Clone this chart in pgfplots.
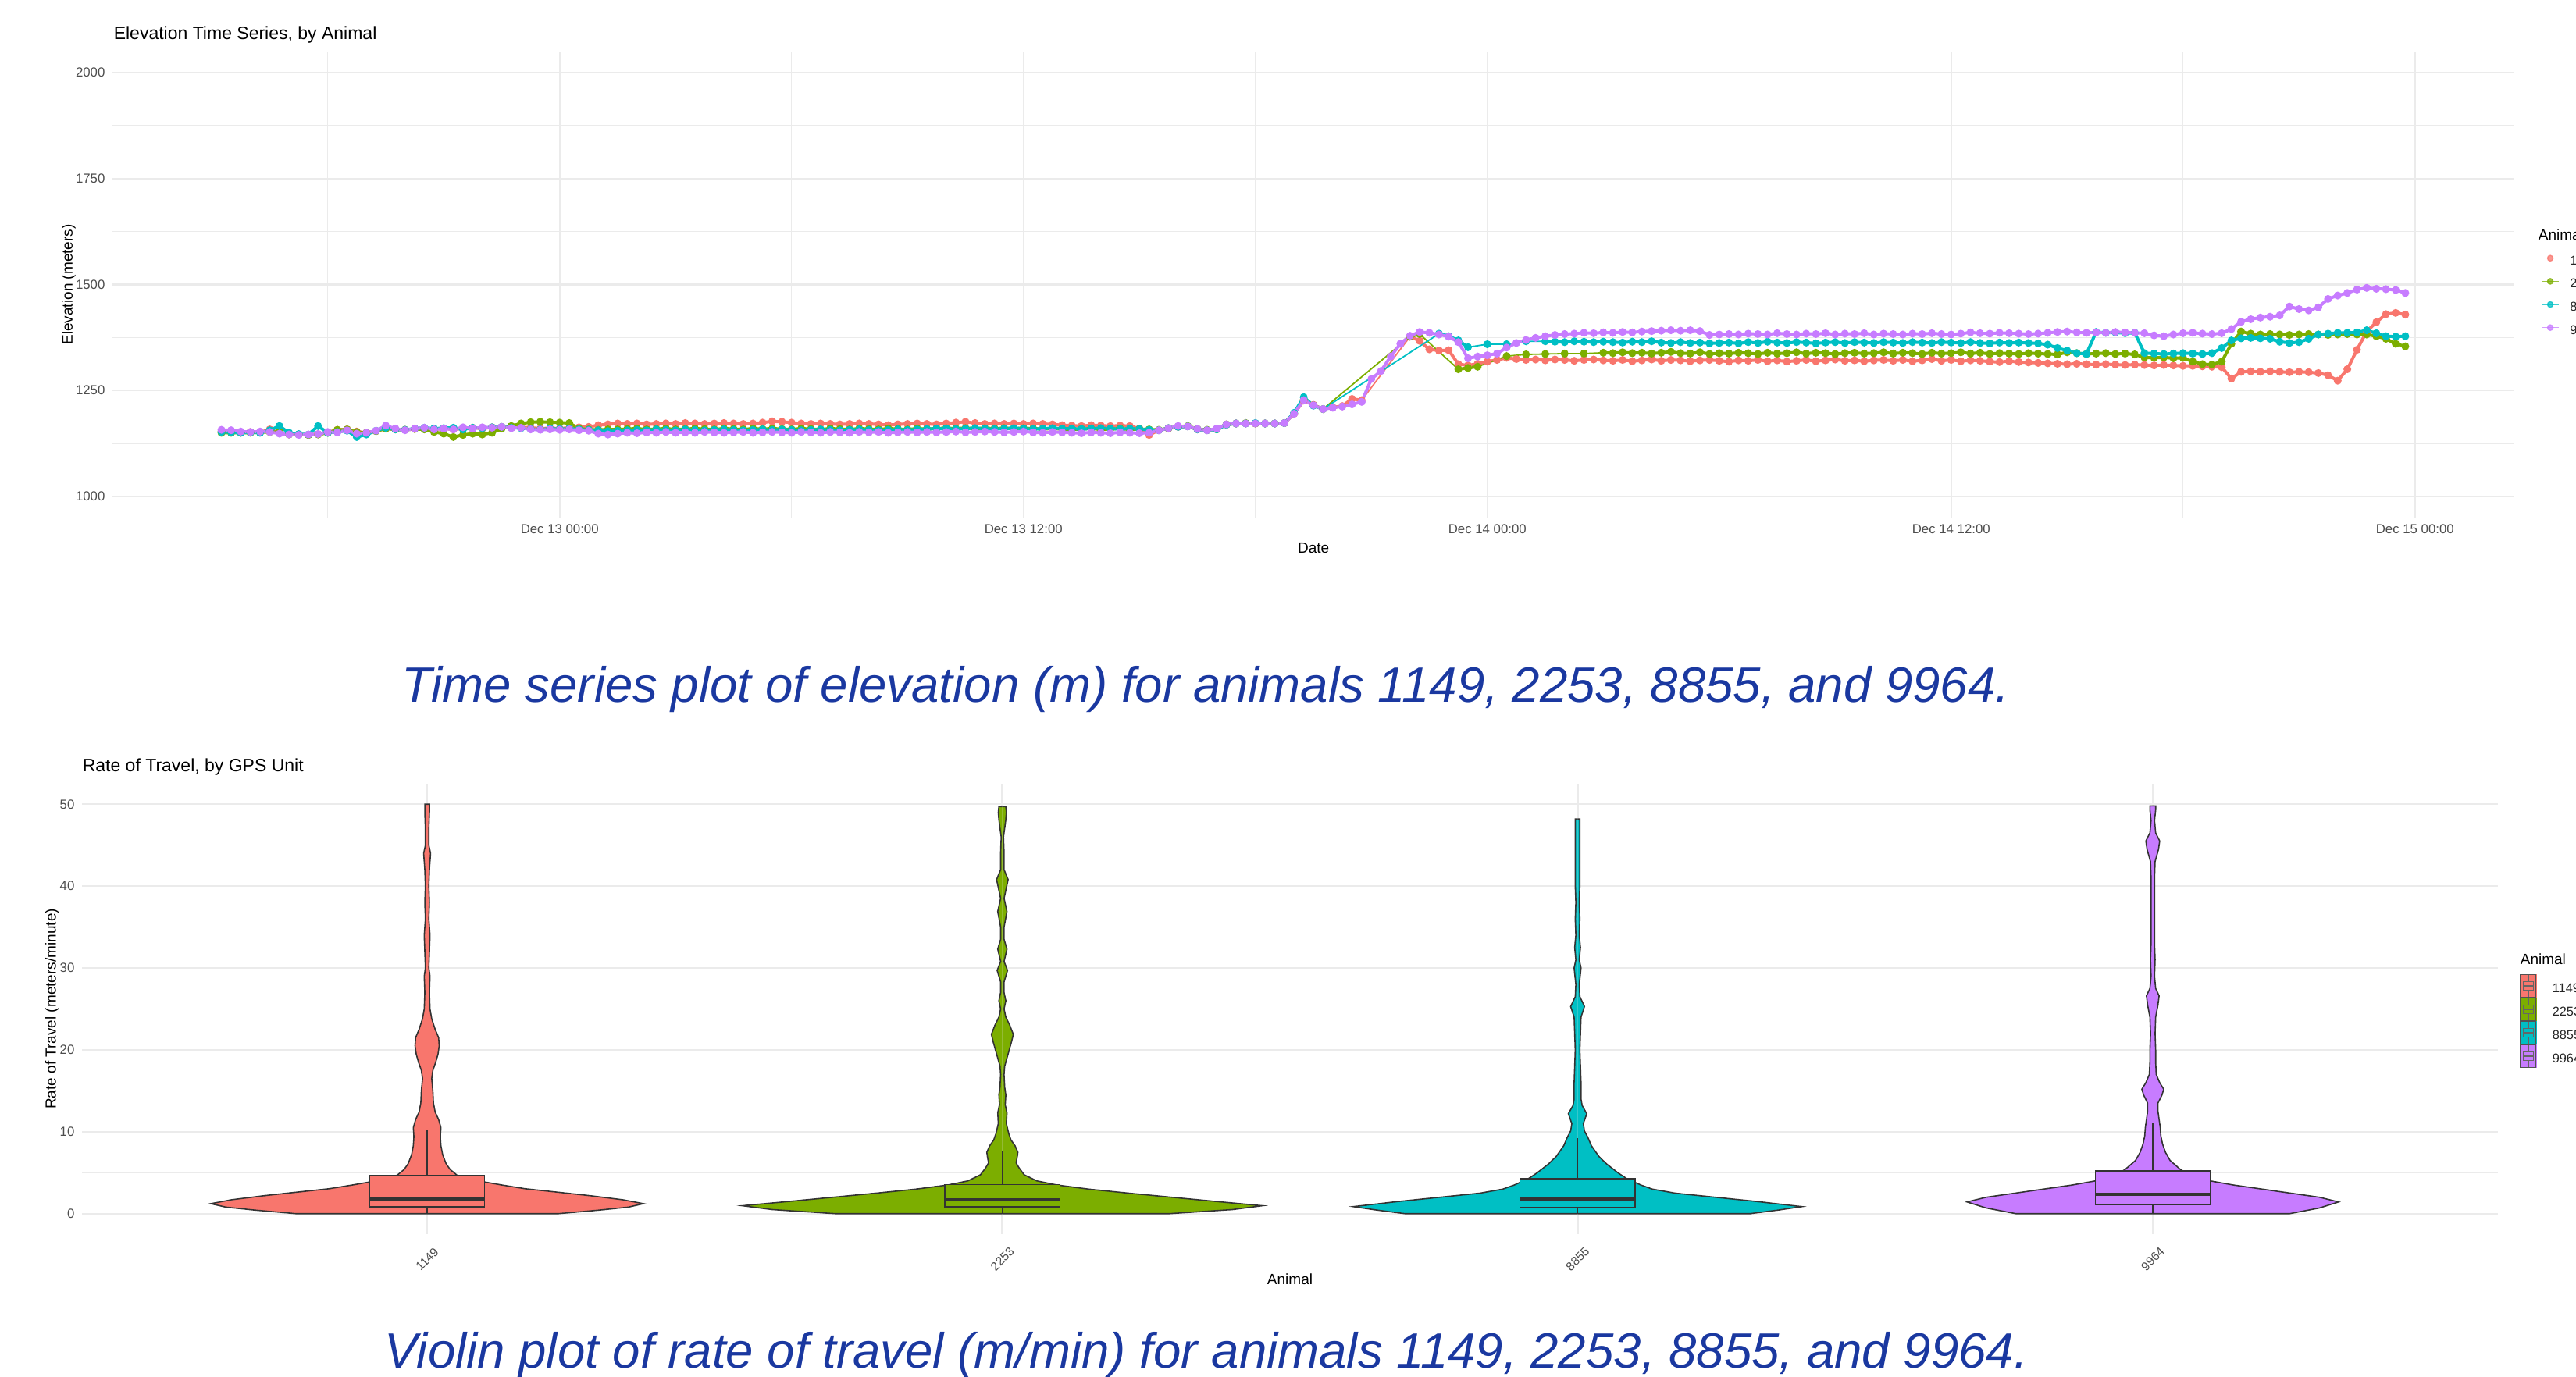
\documentclass[border=0pt]{standalone}
\usepackage{pgfplots}
\pgfplotsset{compat=1.18}
\usepackage{pgfplotstable}
\usepgfplotslibrary{statistics}
\usepackage{fontspec}
\setmainfont{Liberation Sans}
\definecolor{cA}{HTML}{F8766D}
\definecolor{cB}{HTML}{7CAE00}
\definecolor{cC}{HTML}{00BFC4}
\definecolor{cD}{HTML}{C77CFF}
\definecolor{gridc}{HTML}{EBEBEB}
\definecolor{tickc}{HTML}{4D4D4D}
\definecolor{vline}{HTML}{333333}
\definecolor{capblue}{RGB}{26,56,160}
\newcommand{\fs}[1]{\fontsize{#1}{#1}\selectfont}
\newcommand{\vkey}[1]{%
  \fill[#1] (0pt,-2.1pt) rectangle (5pt,5.0pt);
  \draw[vline!85, line width=0.25pt] (0pt,-2.1pt) rectangle (5pt,5.0pt);
  \draw[vline!75, line width=0.2pt] (0.8pt,0.1pt) rectangle (4.2pt,2.8pt);
  \draw[vline!75, line width=0.3pt] (0.8pt,1.45pt) -- (4.2pt,1.45pt);
  \draw[vline!75, line width=0.2pt] (2.5pt,-2.1pt) -- (2.5pt,0.1pt) (2.5pt,2.8pt) -- (2.5pt,5.0pt);}

% time in hours since Dec 13 00:00; r=1149 g=2253 c=8855 p=9964
\pgfplotstableread{
t r g c p
-8.75 1153 1150 1152 1157
-8.5 1152 1150 1151 1156
-8.25 1151 1150 1150 1153
-8.0 1152 1150 1151 1152
-7.75 1151 1151 1150 1153
-7.5 1158 1152 1156 1152
-7.25 1150 1152 1166 1148
-7.0 1148 1146 1150 1146
-6.75 1146 1146 1147 1145
-6.5 1145 1145 1146 1146
-6.25 1147 1146 1166 1147
-6.0 1151 1150 1150 1152
-5.75 1157 1157 1152 1151
-5.5 1158 1158 1155 1156
-5.25 1153 1152 1140 1148
-5.0 1150 1150 1146 1150
-4.75 1154 1154 1155 1155
-4.5 1160 1160 1162 1167
-4.25 1158 1158 1158 1160
-4.0 1157 1157 1157 1156
-3.75 1159 1159 1160 1160
-3.5 1160 1158 1162 1162
-3.25 1158 1152 1160 1158
-3.0 1160 1148 1161 1160
-2.75 1158 1140 1162 1158
-2.5 1160 1145 1158 1163
-2.25 1162 1148 1162 1160
-2.0 1160 1146 1161 1163
-1.75 1163 1150 1163 1162
-1.5 1164 1160 1164 1164
-1.25 1162 1166 1162 1161
-1.0 1163 1172 1161 1162
-0.75 1162 1175 1159 1158
-0.5 1160 1176 1158 1157
-0.25 1161 1175 1160 1158
0.0 1160 1174 1159 1157
0.25 1162 1173 1160 1158
0.5 1163 1160 1158 1156
0.75 1164 1158 1157 1155
1.0 1168 1157 1156 1148
1.25 1170 1158 1154 1146
1.5 1172 1158 1155 1148
1.75 1171 1159 1156 1150
2.0 1172 1160 1157 1149
2.25 1170 1158 1156 1151
2.5 1171 1159 1158 1150
2.75 1172 1160 1157 1152
3.0 1171 1158 1156 1150
3.25 1173 1159 1158 1151
3.5 1172 1160 1157 1150
3.75 1171 1159 1156 1152
4.0 1172 1158 1157 1151
4.25 1173 1160 1158 1150
4.5 1172 1159 1157 1151
4.75 1171 1158 1156 1152
5.0 1172 1160 1157 1150
5.25 1174 1159 1158 1151
5.5 1177 1160 1157 1152
5.75 1176 1159 1158 1151
6.0 1174 1158 1157 1150
6.25 1172 1160 1156 1152
6.5 1171 1159 1157 1151
6.75 1172 1158 1158 1150
7.0 1171 1160 1157 1152
7.25 1170 1159 1156 1151
7.5 1171 1158 1157 1150
7.75 1172 1160 1158 1152
8.0 1171 1159 1157 1151
8.25 1170 1158 1156 1152
8.5 1168 1160 1157 1150
8.75 1170 1159 1158 1151
9.0 1171 1158 1157 1152
9.25 1172 1160 1158 1151
9.5 1171 1159 1159 1152
9.75 1170 1160 1160 1151
10.0 1172 1161 1160 1152
10.25 1174 1160 1159 1153
10.5 1176 1161 1160 1151
10.75 1173 1160 1161 1152
11.0 1171 1161 1160 1153
11.25 1172 1160 1159 1152
11.5 1171 1161 1160 1151
11.75 1172 1160 1161 1152
12.0 1171 1161 1160 1153
12.25 1172 1160 1159 1151
12.5 1171 1159 1160 1150
12.75 1170 1160 1161 1152
13.0 1168 1159 1160 1151
13.25 1167 1158 1160 1150
13.5 1166 1159 1159 1149
13.75 1168 1160 1160 1151
14.0 1167 1158 1161 1150
14.25 1166 1159 1160 1149
14.5 1167 1160 1159 1151
14.75 1166 1158 1160 1150
15.0 1160 1159 1159 1149
15.25 1145 1158 1157 1150
15.5 1156 1157 1156 1156
15.75 1160 1161 1161 1161
16.0 1164 1165 1164 1166
16.25 1165 1166 1165 1165
16.5 1158 1159 1158 1159
16.75 1156 1157 1156 1156
17.0 1159 1158 1158 1160
17.25 1169 1170 1169 1170
17.5 1172 1172 1172 1172
17.75 1172 1173 1172 1172
18.0 1172 1172 1173 1172
18.25 1172 1172 1172 1172
18.5 1172 1172 1172 1172
18.75 1173 1173 1173 1173
19.0 1195 1196 1197 1195
19.25 1226 1228 1234 1227
19.5 1216 1215 1214 1215
19.75 1206 1206 1206 1206
20.0 1210 nan nan 1209
20.25 1213 nan nan 1212
20.5 1230 nan nan 1217
20.75 1227 nan nan 1223
21.0 nan nan nan 1277
21.25 nan nan nan 1296
21.5 nan nan nan 1330
21.75 nan nan nan 1360
22.0 1377 1377 nan 1379
22.25 1367 1383 nan 1388
22.5 1347 nan nan 1386
22.75 1344 nan 1384 1382
23.0 1345 nan 1378 1377
23.25 1312 1300 1368 1364
23.5 1309 1303 1352 1326
23.75 1313 1306 nan 1330
24.0 1318 nan 1359 1333
24.25 1322 nan nan 1337
24.5 1327 1331 1359 1351
24.75 1324 nan nan 1362
25.0 1322 1335 1366 1369
25.25 1323 nan nan 1374
25.5 1321 1336 1366 1378
25.75 1323 nan 1365 1381
26.0 1322 1337 1364 1383
26.25 1320 nan 1366 1384
26.5 1322 1337 1365 1386
26.75 1323 nan 1364 1385
27.0 1321 1339 1365 1387
27.25 1320 1338 1364 1386
27.5 1322 1340 1363 1388
27.75 1319 1338 1365 1387
28.0 1321 1339 1364 1389
28.25 1323 1337 1366 1390
28.5 1320 1339 1363 1391
28.75 1322 1341 1362 1392
29.0 1321 1338 1364 1391
29.25 1319 1337 1362 1392
29.5 1321 1340 1363 1390
29.75 1322 1336 1361 1381
30.0 1320 1338 1362 1382
30.25 1318 1337 1363 1383
30.5 1321 1339 1361 1382
30.75 1320 1338 1364 1384
31.0 1322 1336 1362 1383
31.25 1319 1339 1365 1382
31.5 1321 1337 1363 1385
31.75 1318 1338 1362 1383
32.0 1320 1340 1364 1382
32.25 1322 1337 1363 1384
32.5 1319 1339 1361 1383
32.75 1321 1338 1363 1385
33.0 1323 1336 1364 1382
33.25 1320 1338 1362 1384
33.5 1321 1339 1364 1383
33.75 1319 1337 1363 1385
34.0 1321 1338 1362 1382
34.25 1322 1340 1364 1384
34.5 1320 1337 1363 1383
34.75 1322 1339 1362 1382
35.0 1319 1338 1364 1384
35.25 1321 1336 1363 1383
35.5 1324 1339 1362 1385
35.75 1320 1337 1364 1383
36.0 1322 1338 1363 1382
36.25 1319 1340 1362 1384
36.5 1321 1337 1364 1387
36.75 1320 1339 1362 1385
37.0 1318 1336 1361 1384
37.25 1317 1338 1363 1386
37.5 1319 1337 1362 1385
37.75 1317 1336 1363 1384
38.0 1316 1338 1362 1383
38.25 1315 1337 1361 1384
38.5 1314 1336 1358 1386
38.75 1313 1335 1350 1388
39.0 1312 1340 1344 1389
39.25 1313 1338 1338 1387
39.5 1312 1336 1336 1386
39.75 1311 1337 1388 1387
40.0 1312 1338 1386 1386
40.25 1311 1336 1387 1388
40.5 1310 1337 1385 1387
40.75 1311 1335 1386 1386
41.0 1310 1328 1338 1385
41.25 1309 1327 1337 1380
41.5 1310 1328 1336 1378
41.75 1309 1326 1337 1382
42.0 1308 1327 1338 1385
42.25 1308 1318 1337 1386
42.5 1307 1312 1336 1384
42.75 1306 1311 1338 1383
43.0 1305 1318 1350 1385
43.25 1278 1360 1368 1395
43.5 1294 1389 1373 1412
43.75 1295 1384 1374 1418
44.0 1294 1382 1373 1422
44.25 1295 1383 1372 1424
44.5 1294 1382 1365 1427
44.75 1293 1381 1362 1448
45.0 1294 1382 1364 1442
45.25 1293 1383 1372 1439
45.5 1291 1382 1382 1446
45.75 1286 1381 1384 1466
46.0 1273 1382 1386 1474
46.25 1300 1383 1386 1480
46.5 1346 1382 1387 1488
46.75 1389 1382 1392 1492
47.0 1411 1378 1385 1490
47.25 1430 1372 1378 1489
47.5 1433 1360 1377 1487
47.75 1429 1354 1378 1480
}\elev

% violin outlines: y = rate, w = half width (category units)
\pgfplotstableread{
y w
0 0
0 0.228
0.44 0.30
0.8 0.35
1.22 0.376
1.7 0.34
2.18 0.285
2.6 0.23
3.05 0.17
3.5 0.13
3.93 0.095
4.3 0.07
4.7 0.052
5.4 0.04
6.1 0.033
7.2 0.027
8.3 0.024
9.4 0.023
10.5 0.024
11.5 0.02
12.4 0.014
13.5 0.011
15 0.01
16.5 0.008
17.5 0.01
18.5 0.015
19.5 0.019
20.5 0.021
21.5 0.02
22.5 0.014
23.8 0.008
25 0.005
27 0.004
29 0.005
30 0.003
32 0.004
34 0.005
36 0.003
38 0.004
40 0.003
42 0.004
44 0.006
45 0.003
47 0.003
49 0.004
50 0.004
50 0
}\vA
\pgfplotstableread{
y w
0 0
0 0.29
0.5 0.40
0.97 0.452
1.5 0.37
2.0 0.295
2.5 0.22
3.0 0.15
3.5 0.095
4.0 0.06
4.75 0.038
5.6 0.029
6.2 0.024
7.0 0.026
7.5 0.027
8.3 0.022
9.0 0.015
9.8 0.011
11.0 0.007
12.3 0.008
13.3 0.005
14.5 0.006
15.5 0.004
17.0 0.003
18.0 0.004
19.0 0.008
20.0 0.012
21.0 0.016
21.9 0.019
23.0 0.013
24.0 0.006
25.0 0.003
26.0 0.006
27.0 0.003
28.3 0.003
29.7 0.009
30.8 0.003
32.3 0.008
33.5 0.003
35.0 0.003
36.9 0.008
38.5 0.003
40.8 0.01
42.0 0.003
44.0 0.003
46.0 0.002
48.1 0.006
49.0 0.007
49.7 0.006
49.7 0
}\vB
\pgfplotstableread{
y w
0 0
0 0.30
0.45 0.35
0.86 0.39
1.5 0.31
2.0 0.24
2.5 0.17
3.0 0.13
3.5 0.11
4.3 0.085
5.0 0.07
6.1 0.05
7.0 0.037
8.3 0.024
9.3 0.018
10.1 0.012
11.0 0.01
12.2 0.016
13.2 0.008
14 0.006
16 0.006
18 0.005
20 0.004
22 0.005
24 0.006
25.3 0.012
26.5 0.004
28 0.003
30 0.006
31 0.003
32.5 0.005
34 0.003
36 0.004
38 0.003
40 0.004
42 0.004
44 0.004
46 0.004
47.5 0.004
48.2 0.004
48.2 0
}\vC
\pgfplotstableread{
y w
0 0
0 0.238
0.7 0.29
1.43 0.323
2.0 0.29
2.5 0.24
3.0 0.19
3.5 0.14
4.0 0.10
4.7 0.065
5.4 0.048
6.5 0.03
7.5 0.022
8.5 0.017
9.5 0.014
10.5 0.013
11.5 0.011
12.5 0.009
13.5 0.009
14.5 0.016
15.2 0.019
16 0.012
17 0.006
18.5 0.005
20 0.005
22 0.004
24 0.005
25.5 0.009
26.6 0.011
27.5 0.005
29 0.003
31 0.004
33 0.003
35 0.003
37 0.003
39 0.003
41 0.003
43 0.004
44.5 0.01
45.5 0.012
46.5 0.005
48 0.003
49.3 0.005
49.8 0.005
49.8 0
}\vD

\tikzset{
  thinl/.style={line width=0.45pt},
  band/.style={line width=1.0pt, line join=round},
  pts/.style={mark=*, mark size=1.05pt},
  vedge/.style={draw=vline, line width=0.4pt},
}
\pgfplotsset{
  ggbase/.style={
    scale only axis,
    axis line style={draw=none},
    major tick length=0pt, minor tick length=0pt,
    tick style={draw=none},
    major grid style={draw=gridc, line width=0.6pt},
    minor grid style={draw=gridc, line width=0.3pt},
    tick label style={font=\fs{4.2pt}, text=tickc},
    /pgf/number format/assume math mode=true,
    /pgf/number format/1000 sep={},
    scaled ticks=false,
    yticklabel style={anchor=east, inner sep=0pt, xshift=-2.2pt},
    label style={font=\fs{4.75pt}, inner sep=0pt},
  },
}

\begin{document}
\begin{tikzpicture}
\path[use as bounding box] (0pt,0pt) rectangle (824.75pt,441pt);
\clip (0pt,0pt) rectangle (824.75pt,441pt);

% ---------------- top: elevation time series ----------------
\begin{axis}[ggbase,
  at={(36pt,275.25pt)}, anchor=south west,
  width=768.75pt, height=149.25pt,
  xmin=-11.57, xmax=50.55, ymin=950, ymax=2050,
  xtick={0,12,24,36,48},
  xticklabels={Dec 13 00:00, Dec 13 12:00, Dec 14 00:00, Dec 14 12:00, Dec 15 00:00},
  minor xtick={-6,6,18,30,42},
  ytick={1000,1250,1500,1750,2000},
  minor ytick={1125,1375,1625,1875},
  xmajorgrids, xminorgrids, ymajorgrids, yminorgrids,
  xticklabel style={anchor=north, inner sep=0pt, yshift=-2pt},
  xlabel={Date},
  xlabel style={at={(axis description cs:0.5002,-0.0653)}, anchor=center},
  ylabel={Elevation (meters)},
  ylabel style={at={(axis description cs:-0.0182,0.5)}, anchor=center},
  legend style={at={(axis description cs:1.0117,0.5625)}, anchor=north west,
    draw=none, fill=none, inner sep=0pt, outer sep=0pt, row sep=2.9pt,
    font=\fs{4.1pt}, text=black!85, nodes={inner sep=0pt},
    /tikz/every odd column/.append style={column sep=3.5pt}},
  legend cell align=left,
  legend image code/.code={\draw[mark repeat=2, mark phase=2, #1, opacity=0.75] plot coordinates {(0pt,1.43pt) (2.6pt,1.43pt) (5.25pt,1.43pt)};},
]
% lines (thin connections across gaps, thicker band where points are dense)
\addplot[thinl, color=cA, unbounded coords=discard, forget plot] table[x=t, y=r] {\elev};
\addplot[band, color=cA, unbounded coords=jump, forget plot] table[x=t, y=r] {\elev};
\addplot[thinl, color=cB, unbounded coords=discard, forget plot] table[x=t, y=g] {\elev};
\addplot[band, color=cB, unbounded coords=jump, forget plot] table[x=t, y=g] {\elev};
\addplot[thinl, color=cC, unbounded coords=discard, forget plot] table[x=t, y=c] {\elev};
\addplot[band, color=cC, unbounded coords=jump, forget plot] table[x=t, y=c] {\elev};
\addplot[thinl, color=cD, unbounded coords=discard, forget plot] table[x=t, y=p] {\elev};
\addplot[band, color=cD, unbounded coords=jump, forget plot] table[x=t, y=p] {\elev};
% points
\addplot[pts, only marks, color=cA, unbounded coords=discard, forget plot] table[x=t, y=r] {\elev};
\addplot[pts, only marks, color=cB, unbounded coords=discard, forget plot] table[x=t, y=g] {\elev};
\addplot[pts, only marks, color=cC, unbounded coords=discard, forget plot] table[x=t, y=c] {\elev};
\addplot[pts, only marks, color=cD, unbounded coords=discard, forget plot] table[x=t, y=p] {\elev};
\addlegendimage{color=cA, line width=0.35pt, mark=*, mark size=0.9pt}\addlegendentry{1149}
\addlegendimage{color=cB, line width=0.35pt, mark=*, mark size=0.9pt}\addlegendentry{2253}
\addlegendimage{color=cC, line width=0.35pt, mark=*, mark size=0.9pt}\addlegendentry{8855}
\addlegendimage{color=cD, line width=0.35pt, mark=*, mark size=0.9pt}\addlegendentry{9964}
\end{axis}
\node[anchor=west, inner sep=0pt, font=\fs{5.75pt}] at (36.25pt,429.75pt) {Elevation Time Series, by Animal};
\node[anchor=west, inner sep=0pt, font=\fs{4.75pt}] at (812.5pt,365.75pt) {Animal};

% ---------------- bottom: violin plot ----------------
\begin{axis}[ggbase,
  at={(26.25pt,45.75pt)}, anchor=south west,
  width=773.5pt, height=144.25pt,
  xmin=-0.6, xmax=3.6, ymin=-2.5, ymax=52.5,
  xtick={0,1,2,3}, xticklabels={1149,2253,8855,9964},
  ytick={0,10,20,30,40,50}, minor ytick={5,15,25,35,45},
  xmajorgrids, ymajorgrids, yminorgrids,
  xticklabel style={font=\fs{3.9pt}, anchor=center, inner sep=0pt, yshift=-8pt, rotate=45},
  xlabel={Animal},
  xlabel style={at={(axis description cs:0.5,-0.1005)}, anchor=center},
  ylabel={Rate of Travel (meters/minute)},
  ylabel style={at={(axis description cs:-0.0124,0.5)}, anchor=center},
  boxplot/draw direction=y,
  boxplot/box extend=0.2,
  boxplot/whisker extend=0,
  boxplot/every median/.style={line width=1.1pt},
  legend style={at={(axis description cs:1.0091,0.5771)}, anchor=north west,
    draw=none, fill=none, inner sep=0pt, outer sep=0pt, row sep=0pt,
    font=\fs{4.1pt}, text=black!85, nodes={inner sep=0pt},
    /tikz/every odd column/.append style={column sep=5pt}},
  legend cell align=left,
]
% 1149
\addplot[fill=cA, draw=none, forget plot] table[x expr=0+\thisrow{w}, y=y] {\vA};
\addplot[fill=cA, draw=none, forget plot] table[x expr=0-\thisrow{w}, y=y] {\vA};
\addplot[vedge, forget plot] table[x expr=0+\thisrow{w}, y=y] {\vA};
\addplot[vedge, forget plot] table[x expr=0-\thisrow{w}, y=y] {\vA};
\addplot[boxplot prepared={draw position=0, lower whisker=0, lower quartile=0.86, median=1.8, upper quartile=4.7, upper whisker=10.3}, fill=cA, draw=vline, line width=0.4pt, forget plot] coordinates {};
% 2253
\addplot[fill=cB, draw=none, forget plot] table[x expr=1+\thisrow{w}, y=y] {\vB};
\addplot[fill=cB, draw=none, forget plot] table[x expr=1-\thisrow{w}, y=y] {\vB};
\addplot[vedge, forget plot] table[x expr=1+\thisrow{w}, y=y] {\vB};
\addplot[vedge, forget plot] table[x expr=1-\thisrow{w}, y=y] {\vB};
\addplot[boxplot prepared={draw position=1, lower whisker=0, lower quartile=0.86, median=1.72, upper quartile=3.56, upper whisker=7.6}, fill=cB, draw=vline, line width=0.4pt, forget plot] coordinates {};
% 8855
\addplot[fill=cC, draw=none, forget plot] table[x expr=2+\thisrow{w}, y=y] {\vC};
\addplot[fill=cC, draw=none, forget plot] table[x expr=2-\thisrow{w}, y=y] {\vC};
\addplot[vedge, forget plot] table[x expr=2+\thisrow{w}, y=y] {\vC};
\addplot[vedge, forget plot] table[x expr=2-\thisrow{w}, y=y] {\vC};
\addplot[boxplot prepared={draw position=2, lower whisker=0, lower quartile=0.77, median=1.81, upper quartile=4.26, upper whisker=9.2}, fill=cC, draw=vline, line width=0.4pt, forget plot] coordinates {};
% 9964
\addplot[fill=cD, draw=none, forget plot] table[x expr=3+\thisrow{w}, y=y] {\vD};
\addplot[fill=cD, draw=none, forget plot] table[x expr=3-\thisrow{w}, y=y] {\vD};
\addplot[vedge, forget plot] table[x expr=3+\thisrow{w}, y=y] {\vD};
\addplot[vedge, forget plot] table[x expr=3-\thisrow{w}, y=y] {\vD};
\addplot[boxplot prepared={draw position=3, lower whisker=0, lower quartile=1.07, median=2.38, upper quartile=5.23, upper whisker=11.1}, fill=cD, draw=vline, line width=0.4pt, forget plot] coordinates {};
\addlegendimage{legend image code/.code={\vkey{cA}}}\addlegendentry{1149}
\addlegendimage{legend image code/.code={\vkey{cB}}}\addlegendentry{2253}
\addlegendimage{legend image code/.code={\vkey{cC}}}\addlegendentry{8855}
\addlegendimage{legend image code/.code={\vkey{cD}}}\addlegendentry{9964}
\end{axis}
\node[anchor=west, inner sep=0pt, font=\fs{5.75pt}] at (26.25pt,195.25pt) {Rate of Travel, by GPS Unit};
\node[anchor=west, inner sep=0pt, font=\fs{4.75pt}] at (806.75pt,133.75pt) {Animal};

% ---------------- captions ----------------
\node[anchor=base, inner sep=0pt, text=capblue, font=\itshape\fs{15.9pt}] at (386pt,216pt)
  {Time series plot of elevation (m) for animals 1149, 2253, 8855, and 9964.};
\node[anchor=base, inner sep=0pt, text=capblue, font=\itshape\fs{15.9pt}] at (386.25pt,2.75pt)
  {Violin plot of rate of travel (m/min) for animals 1149, 2253, 8855, and 9964.};
\end{tikzpicture}
\end{document}
